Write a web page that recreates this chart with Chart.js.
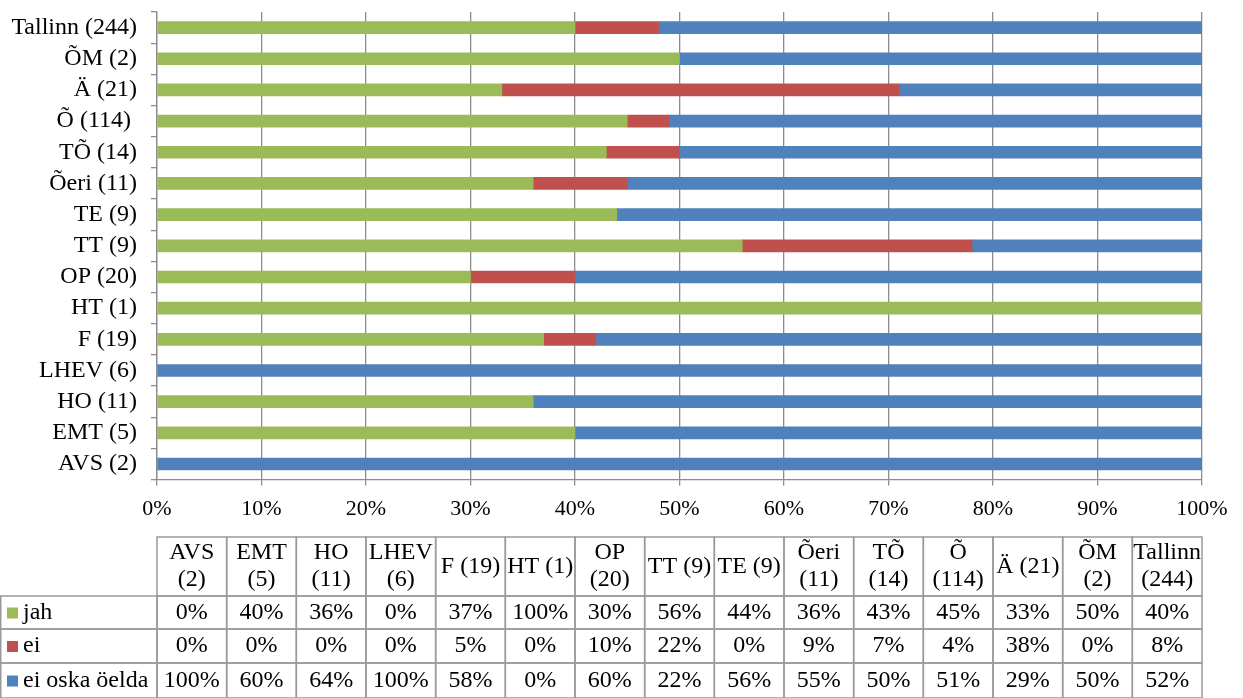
<!DOCTYPE html>
<html>
<head>
<meta charset="utf-8">
<script src="https://cdn.jsdelivr.net/npm/chart.js@4/dist/chart.umd.min.js"></script>
<style>
  html, body { margin: 0; padding: 0; background: #fff; }
  #wrap { width: 1243px; height: 698px; position: relative; }
</style>
</head>
<body>
<div id="wrap"><canvas id="chart"></canvas></div>
<script>
'use strict';

const categories = ['AVS (2)', 'EMT (5)', 'HO (11)', 'LHEV (6)', 'F (19)', 'HT (1)', 'OP (20)',
  'TT (9)', 'TE (9)', 'Õeri (11)', 'TÕ (14)', 'Õ (114) ', 'Ä (21)', 'ÕM (2)', 'Tallinn (244)']
const seriesNames = ['jah', 'ei', 'ei oska öelda']
const jahData = [0, 40, 36, 0, 37, 100, 30, 56, 44, 36, 43, 45, 33, 50, 40]
const eiData = [0, 0, 0, 0, 5, 0, 10, 22, 0, 9, 7, 4, 38, 0, 8]
const eiOskaData = [100, 60, 64, 100, 58, 0, 60, 22, 56, 55, 50, 51, 29, 50, 52]
const xTicks = [0, 10, 20, 30, 40, 50, 60, 70, 80, 90, 100]

const colors = ['#9bbb59', '#c0504d', '#4f81bd']
const FONT = '"Liberation Serif", "Times New Roman", serif'
const gridColor = '#8c8c8c'

// draws the data table under the chart, columns lined up with the plot area
const dataTable = {
  id: 'dataTable',
  afterDraw(chart) {
    const ctx = chart.ctx
    const area = chart.chartArea
    const rows = [jahData, eiData, eiOskaData]
    const colW = (area.right - area.left) / categories.length
    const headTop = 537, headBottom = 596
    const rowLines = [596, 629, 663, 698]

    ctx.save()
    ctx.strokeStyle = '#9a9a9a'
    ctx.lineWidth = 1.5
    ctx.font = '24px ' + FONT
    ctx.fillStyle = '#000'
    ctx.textBaseline = 'middle'
    ctx.textAlign = 'center'

    // header cells
    categories.forEach((cat, i) => {
      const x0 = area.left + i * colW
      ctx.strokeRect(x0, headTop, colW, headBottom - headTop)
      const txt = cat.trim()
      const cx = x0 + colW / 2
      if (ctx.measureText(txt).width > colW - 1) {
        const parts = txt.split(' ')
        ctx.fillText(parts[0], cx, headTop + 16)
        ctx.fillText(parts.slice(1).join(' '), cx, headTop + 43)
      } else {
        ctx.fillText(txt, cx, (headTop + headBottom) / 2)
      }
    })

    // data rows
    rows.forEach((vals, r) => {
      const y0 = rowLines[r], y1 = rowLines[r + 1]
      const cy = (y0 + y1) / 2
      ctx.strokeRect(0.75, y0, area.left - 0.75, y1 - y0)
      ctx.fillStyle = colors[r]
      ctx.fillRect(7, cy - 5, 11, 11)
      ctx.fillStyle = '#000'
      ctx.textAlign = 'left'
      ctx.fillText(seriesNames[r], 23, cy)
      ctx.textAlign = 'center'
      vals.forEach((v, i) => {
        const x0 = area.left + i * colW
        ctx.strokeRect(x0, y0, colW, y1 - y0)
        ctx.fillText(v + '%', x0 + colW / 2, cy)
      })
    })
    ctx.restore()
  }
}

function myChart() {
  const ctx = document.getElementById('chart').getContext('2d')
  const chart = new Chart(ctx, {
    type: 'bar',
    data: {
      labels: categories,
      datasets: [{
        label: seriesNames[0],
        data: jahData,
        backgroundColor: colors[0],
      },
      {
        label: seriesNames[1],
        data: eiData,
        backgroundColor: colors[1],
      },
      {
        label: seriesNames[2],
        data: eiOskaData,
        backgroundColor: colors[2],
      }]
    },
    options: {
      indexAxis: 'y',
      responsive: true,
      maintainAspectRatio: false,
      animation: false,
      datasets: { bar: { barThickness: 12 } },
      layout: { padding: { top: 12, right: 41, bottom: 166, left: 0 } },
      plugins: {
        legend: { display: false },
        tooltip: { enabled: false },
      },
      scales: {
        x: {
          stacked: true,
          min: 0,
          max: 100,
          afterBuildTicks: (scale) => { scale.ticks = xTicks.map((v) => ({ value: v })) },
          ticks: {
            callback: (v) => v + '%',
            color: '#000',
            font: { family: FONT, size: 22 },
            padding: 10,
            maxRotation: 0,
          },
          grid: { color: gridColor, lineWidth: 1.3, tickLength: 6 },
          border: { color: gridColor, width: 1.3 },
        },
        y: {
          stacked: true,
          reverse: true,
          afterFit: (scale) => {
            scale.width = 157
            scale.paddingTop = 0
            scale.paddingBottom = 0
          },
          ticks: {
            color: '#000',
            font: { family: FONT, size: 24 },
            padding: 14,
            autoSkip: false,
          },
          grid: { offset: true, drawOnChartArea: false, color: gridColor, lineWidth: 1.3, tickLength: 6 },
          border: { color: gridColor, width: 1.3 },
        }
      }
    },
    plugins: [dataTable]
  })
}

myChart()
</script>
</body>
</html>
